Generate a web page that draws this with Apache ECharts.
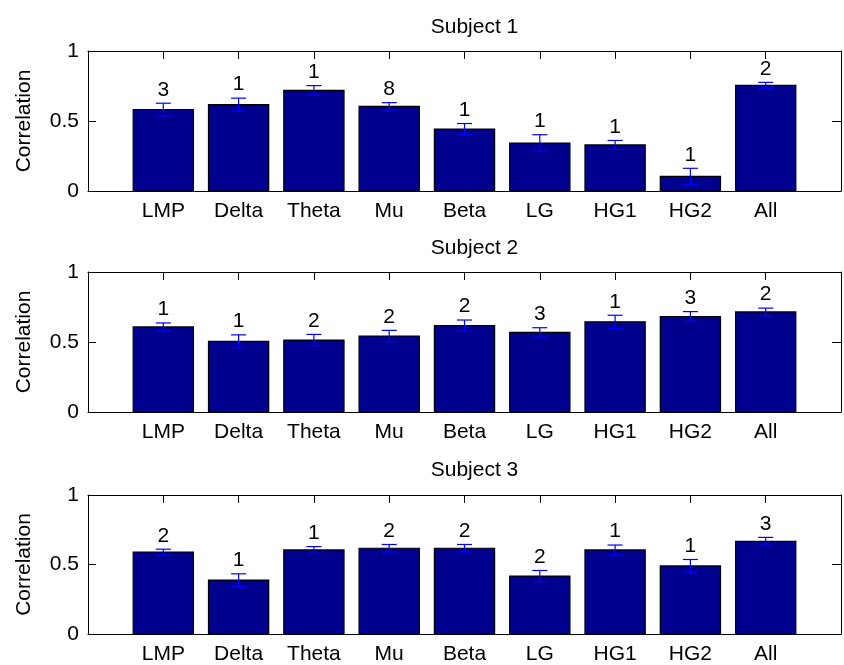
<!DOCTYPE html>
<html>
<head>
<meta charset="utf-8">
<script src="https://cdn.jsdelivr.net/npm/echarts@6/dist/echarts.min.js"></script>
<style>
html,body{margin:0;padding:0;background:#fff;}
#chart{width:844px;height:665px;}
</style>
</head>
<body>
<div id="chart"></div>
<script>
const categories = ['LMP','Delta','Theta','Mu','Beta','LG','HG1','HG2','All'];
const titles = ['Subject 1','Subject 2','Subject 3'];
const yTicks = [0, 0.5, 1];

const s1Values = [0.582, 0.617, 0.719, 0.605, 0.442, 0.343, 0.329, 0.104, 0.754];
const s1Errors = [0.045, 0.046, 0.034, 0.026, 0.040, 0.059, 0.032, 0.058, 0.022];
const s1Counts = ['3','1','1','8','1','1','1','1','2'];

const s2Values = [0.608, 0.505, 0.514, 0.543, 0.617, 0.569, 0.644, 0.682, 0.715];
const s2Errors = [0.028, 0.046, 0.040, 0.040, 0.040, 0.033, 0.047, 0.035, 0.027];
const s2Counts = ['1','1','2','2','2','3','1','3','2'];

const s3Values = [0.590, 0.388, 0.605, 0.617, 0.617, 0.417, 0.605, 0.490, 0.667];
const s3Errors = [0.020, 0.045, 0.024, 0.027, 0.027, 0.040, 0.035, 0.046, 0.028];
const s3Counts = ['2','1','1','2','2','2','1','1','3'];

const subjects = [
  {values: s1Values, errors: s1Errors, counts: s1Counts},
  {values: s2Values, errors: s2Errors, counts: s2Counts},
  {values: s3Values, errors: s3Errors, counts: s3Counts}
];

const FONT = "'Liberation Sans', Arial, sans-serif";
const FS = 21;
const gridTops = [51, 272, 495];
const gridHeight = 140;
const gridLeft = 88;
const gridWidth = 763;
const titleTops = [12, 233, 455];

const chart = echarts.init(document.getElementById('chart'), null, {renderer: 'canvas'});

const option = {
  backgroundColor: '#ffffff',
  animation: false,
  title: [], grid: [], xAxis: [], yAxis: [], series: []
};

subjects.forEach((s, k) => {
  option.title.push({
    text: titles[k],
    left: gridLeft + gridWidth / 2,
    top: titleTops[k],
    textAlign: 'center',
    textStyle: {fontFamily: FONT, fontSize: FS, fontWeight: 'normal', color: '#000'}
  });
  option.grid.push({left: gridLeft, top: gridTops[k], width: gridWidth, height: gridHeight, containLabel: false});
  const lineStyle = {color: '#000', width: 1};
  // bottom x axis
  option.xAxis.push({
    gridIndex: k, type: 'value', min: 0, max: categories.length + 1, interval: 1, position: 'bottom',
    axisLine: {show: true, onZero: false, lineStyle},
    axisTick: {show: true, inside: true, length: 8, lineStyle},
    splitLine: {show: false},
    axisLabel: {
      show: true, margin: 10, fontFamily: FONT, fontSize: FS, color: '#000',
      formatter: v => (v >= 1 && v <= categories.length) ? categories[v - 1] : ''
    }
  });
  // top x axis (box + ticks)
  option.xAxis.push({
    gridIndex: k, type: 'value', min: 0, max: categories.length + 1, interval: 1, position: 'top',
    axisLine: {show: true, onZero: false, lineStyle},
    axisTick: {show: true, inside: true, length: 8, lineStyle},
    splitLine: {show: false},
    axisLabel: {show: false}
  });
  option.yAxis.push({
    gridIndex: k, type: 'value', min: 0, max: 1, interval: 0.5, position: 'left',
    name: 'Correlation', nameLocation: 'middle', nameGap: 53, nameRotate: 90,
    nameTextStyle: {fontFamily: FONT, fontSize: FS, color: '#000'},
    axisLine: {show: true, onZero: false, lineStyle},
    axisTick: {show: true, inside: true, length: 8, lineStyle},
    splitLine: {show: false},
    axisLabel: {show: true, margin: 9, fontFamily: FONT, fontSize: FS, color: '#000',
      formatter: v => yTicks.indexOf(v) >= 0 ? String(v) : ''}
  });
  option.yAxis.push({
    gridIndex: k, type: 'value', min: 0, max: 1, interval: 0.5, position: 'right',
    axisLine: {show: true, onZero: false, lineStyle},
    axisTick: {show: true, inside: true, length: 9, lineStyle},
    splitLine: {show: false},
    axisLabel: {show: false}
  });

  const data = s.values.map((v, i) => [i + 1, v, s.errors[i], s.counts[i]]);

  option.series.push({
    type: 'custom', xAxisIndex: 2 * k, yAxisIndex: 2 * k, z: 3, clip: false,
    data: data,
    renderItem: (params, api) => {
      const x = api.value(0), y = api.value(1), e = api.value(2);
      const p0 = api.coord([x - 0.4, y]);
      const p1 = api.coord([x + 0.4, 0]);
      const top = api.coord([x, y + e]);
      const bot = api.coord([x, y - e]);
      const capL = api.coord([x - 0.1, 0])[0];
      const capR = api.coord([x + 0.1, 0])[0];
      const label = data[params.dataIndex][3];
      return {
        type: 'group',
        children: [
          {type: 'rect', shape: {x: p0[0], y: p0[1], width: p1[0] - p0[0], height: p1[1] - p0[1]},
           style: {fill: '#00008F', stroke: '#000', lineWidth: 1.2}},
          {type: 'line', shape: {x1: top[0], y1: top[1], x2: bot[0], y2: bot[1]},
           style: {stroke: '#0000FF', lineWidth: 1.2}},
          {type: 'line', shape: {x1: capL, y1: top[1], x2: capR, y2: top[1]},
           style: {stroke: '#0000FF', lineWidth: 1.2}},
          {type: 'line', shape: {x1: capL, y1: bot[1], x2: capR, y2: bot[1]},
           style: {stroke: '#0000FF', lineWidth: 1.2}},
          {type: 'text', x: top[0], y: top[1] - 3,
           style: {text: label, fill: '#000', font: FS + 'px ' + FONT, align: 'center', verticalAlign: 'bottom'}}
        ]
      };
    }
  });
});

chart.setOption(option);
</script>
</body>
</html>
